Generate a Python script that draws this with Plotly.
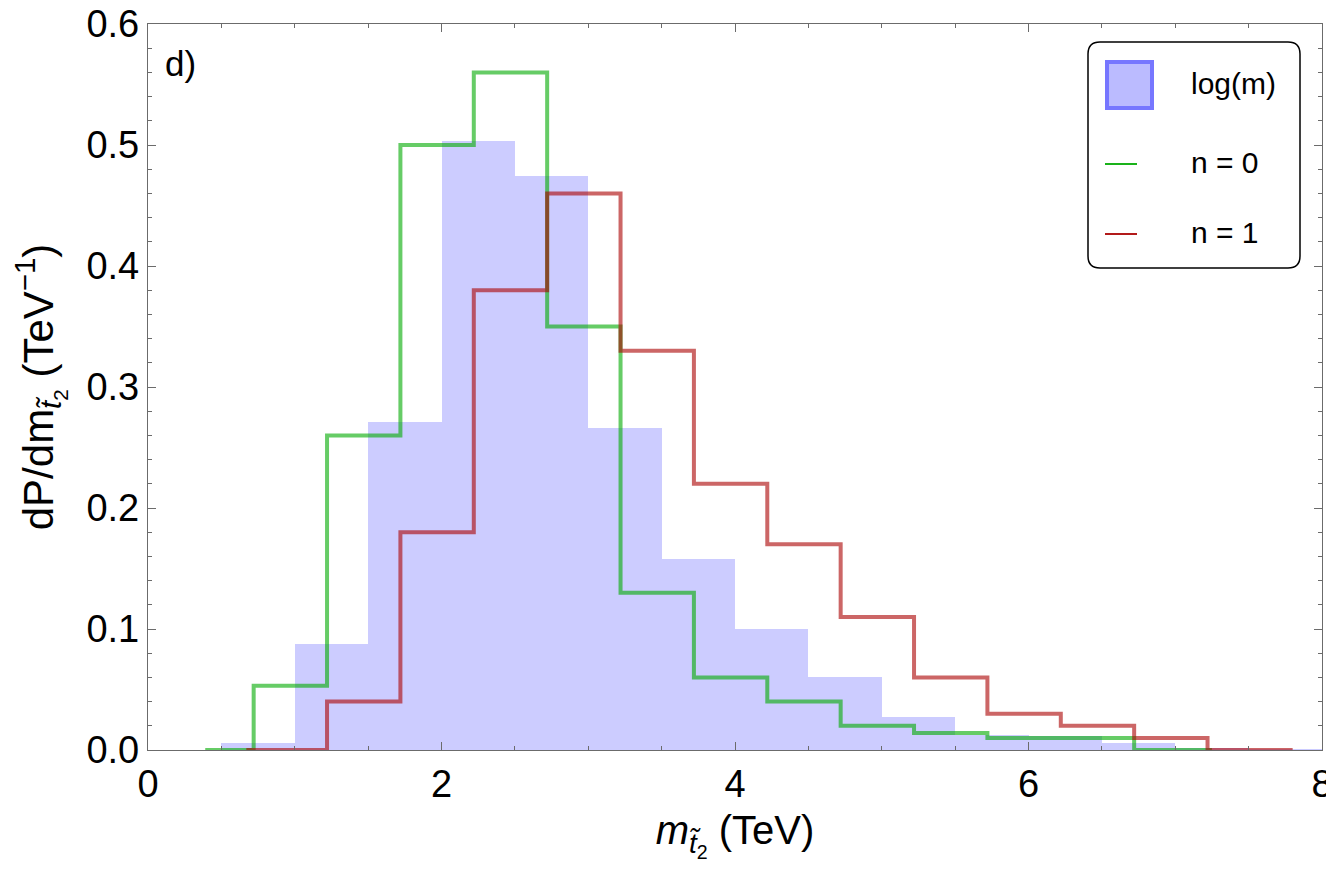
import plotly.graph_objects as go

# blue histogram: log(m) prior, bins of width 0.5 TeV
bin_left = [0.5, 1.0, 1.5, 2.0, 2.5, 3.0, 3.5, 4.0, 4.5, 5.0, 5.5, 6.0, 6.5, 7.0, 7.5]
dens_log = [0.006, 0.088, 0.271, 0.503, 0.474, 0.266, 0.158, 0.100, 0.060,
            0.0275, 0.0124, 0.0116, 0.006, 0.002, 0.001]

# step outlines (value holds until the next edge)
n0_x = [0.39, 0.72, 1.22, 1.72, 2.22, 2.72, 3.22, 3.72, 4.22, 4.72, 5.22, 5.72, 6.22, 6.72, 7.25]
n0_y = [0.0, 0.053, 0.26, 0.50, 0.56, 0.35, 0.13, 0.06, 0.04, 0.02, 0.014, 0.01, 0.01, 0.0, 0.0]

n1_x = [0.67, 1.22, 1.72, 2.22, 2.72, 3.22, 3.72, 4.22, 4.72, 5.22, 5.72, 6.22, 6.72, 7.22, 7.8]
n1_y = [0.0, 0.04, 0.18, 0.38, 0.46, 0.33, 0.22, 0.17, 0.11, 0.06, 0.03, 0.02, 0.01, 0.0, 0.0]

legend_labels = ["log(m)", "n = 0", "n = 1"]

# the page body adds an 8 px offset, so the figure is drawn 8 px smaller
OFF = 8
W, H = 1334 - OFF, 880 - OFF
ML, MR, MT, MB = 148 - OFF, 12, 24 - OFF, 130
FONT = "Liberation Sans, Arial, sans-serif"
AXIS_COL = "#6b6b6b"


def px(x):
    # window pixel -> paper x
    return (x - OFF - ML) / (W - ML - MR)


def py(y):
    # window pixel -> paper y
    return (H - MB - (y - OFF)) / (H - MT - MB)


fig = go.Figure()

fig.add_trace(go.Scatter(
    x=n0_x, y=n0_y, mode="lines", line_shape="hv",
    line=dict(color="rgba(0,170,0,0.6)", width=4),
    showlegend=False, hoverinfo="skip",
))
fig.add_trace(go.Scatter(
    x=n1_x, y=n1_y, mode="lines", line_shape="hv",
    line=dict(color="rgba(170,0,0,0.6)", width=4),
    showlegend=False, hoverinfo="skip",
))
fig.add_trace(go.Bar(
    x=[b + 0.25 for b in bin_left], y=dens_log, width=0.5,
    marker=dict(color="rgba(102,102,255,0.333)", line=dict(width=0)),
    showlegend=False, hoverinfo="skip",
))

# hand-made legend box (rounded corners like the original)
x0, x1, y0, y1 = 1088, 1300, 42, 268
r = 12
path = (
    f"M{px(x0 + r)},{py(y0)} L{px(x1 - r)},{py(y0)} Q{px(x1)},{py(y0)} {px(x1)},{py(y0 + r)} "
    f"L{px(x1)},{py(y1 - r)} Q{px(x1)},{py(y1)} {px(x1 - r)},{py(y1)} "
    f"L{px(x0 + r)},{py(y1)} Q{px(x0)},{py(y1)} {px(x0)},{py(y1 - r)} "
    f"L{px(x0)},{py(y0 + r)} Q{px(x0)},{py(y0)} {px(x0 + r)},{py(y0)} Z"
)
shapes = [
    dict(type="path", path=path, xref="paper", yref="paper",
         line=dict(color="black", width=1.5), fillcolor="white", layer="above"),
    dict(type="rect", xref="paper", yref="paper",
         x0=px(1107), x1=px(1152), y0=py(62), y1=py(108),
         fillcolor="#bbbbff", line=dict(color="#7777ff", width=4), layer="above"),
    dict(type="line", xref="paper", yref="paper",
         x0=px(1105), x1=px(1137), y0=py(164), y1=py(164),
         line=dict(color="#00aa00", width=1.8), layer="above"),
    dict(type="line", xref="paper", yref="paper",
         x0=px(1105), x1=px(1137), y0=py(234), y1=py(234),
         line=dict(color="#aa0000", width=1.8), layer="above"),
]

annotations = [
    dict(text="d)", xref="paper", yref="paper", x=px(163), y=py(42),
         xanchor="left", yanchor="top", showarrow=False,
         font=dict(size=35, color="black", family=FONT)),
]
for lab, yy in zip(legend_labels, [84, 162, 232]):
    annotations.append(dict(
        text=lab, xref="paper", yref="paper", x=px(1189), y=py(yy),
        xanchor="left", yanchor="middle", showarrow=False,
        font=dict(size=30, color="black", family=FONT)))

axis_common = dict(
    showline=True, linecolor=AXIS_COL, linewidth=1.3, mirror="ticks",
    ticks="inside", ticklen=8, tickcolor=AXIS_COL, tickwidth=1.2,
    showgrid=False, zeroline=False, ticklabeloverflow="allow",
    tickfont=dict(size=38, color="black", family=FONT),
)

fig.update_xaxes(
    range=[0, 8], dtick=2, tick0=0,
    minor=dict(dtick=0.5, ticks="inside", ticklen=4, tickcolor=AXIS_COL, showgrid=False),
    title=dict(text="<i>m</i><sub><i>t\u0303</i><sub>2</sub></sub> (TeV)",
               standoff=12, font=dict(size=40, color="black", family=FONT)),
    **axis_common,
)
fig.update_yaxes(
    range=[0, 0.6], dtick=0.1, tick0=0, tickformat=".1f",
    minor=dict(dtick=0.02, ticks="inside", ticklen=4, tickcolor=AXIS_COL, showgrid=False),
    title=dict(text="dP/dm<sub><i>t\u0303</i><sub>2</sub></sub> (TeV<sup>\u22121</sup>)",
               standoff=20, font=dict(size=42, color="black", family=FONT)),
    **axis_common,
)

fig.update_layout(
    width=W, height=H,
    margin=dict(l=ML, r=MR, t=MT, b=MB, autoexpand=False),
    plot_bgcolor="white", paper_bgcolor="white",
    bargap=0, barmode="overlay",
    font=dict(family=FONT, color="black"),
    shapes=shapes, annotations=annotations,
)

fig.write_html("out.html")
